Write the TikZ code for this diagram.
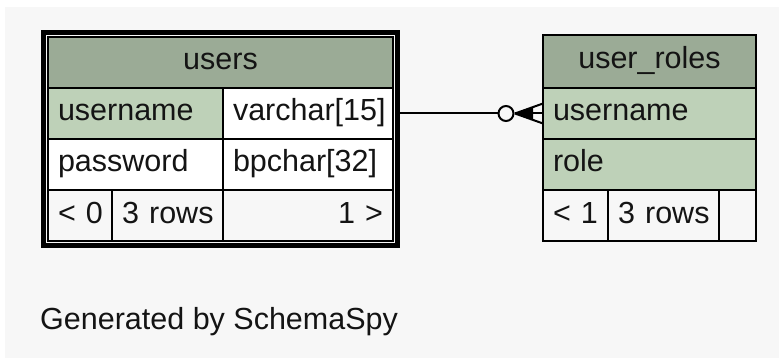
\documentclass[tikz,border=0pt]{standalone}
\usepackage{fontspec}
\setmainfont{Liberation Sans}
\usetikzlibrary{positioning,fit,calc}

\definecolor{hdrgreen}{HTML}{9BAB96}
\definecolor{keygreen}{HTML}{BED1B8}
\definecolor{paper}{HTML}{F7F7F7}
\definecolor{ink}{HTML}{141414}

\begin{document}
\begin{tikzpicture}[
        x=1pt, y=-1pt,
        cell/.style={
                rectangle,
                draw=black,
                line width=1.8pt,
                fill=white,
                anchor=north west,
                inner xsep=10pt,
                inner ysep=0pt,
                outer sep=0pt,
                minimum height=51pt,
                text=ink,
                font=\fontsize{30.5}{35}\selectfont,
                text height=21pt,
                text depth=6pt,
                align=left
            },
        header/.style={
                cell,
                fill=hdrgreen,
                align=center
            },
        keycol/.style={cell, fill=keygreen},
        footer/.style={cell, fill=paper},
        tableframe/.style={
                rectangle,
                draw=black,
                line width=5pt,
                inner sep=4.5pt
            },
        zeroring/.style={
                circle,
                draw=black,
                line width=2pt,
                fill=paper,
                inner sep=0pt,
                minimum size=15pt
            },
        relation/.style={draw=black, line width=2pt},
        credit/.style={font=\fontsize{30.5}{35}\selectfont, text=ink, inner sep=0pt}
    ]
    \useasboundingbox (0,0) rectangle (779,358);
    \fill[white] (0,0) rectangle (779,358);
    \fill[paper] (5,7) rectangle (779,358);

    % users
    \node[header, text width=325pt] (usersHead) at (48,37) {users};
    \node[keycol, text width=155pt] (usersName) at (48,88) {username};
    \node[cell, text width=150pt] (usersNameType) at (223,88) {varchar[15]};
    \node[cell, text width=155pt] (usersPass) at (48,139) {password};
    \node[cell, text width=150pt] (usersPassType) at (223,139) {bpchar[32]};
    \node[footer, text width=44pt] (usersParents) at (48,190) {\mbox{< 0}};
    \node[footer, text width=91pt] (usersRows) at (112,190) {\mbox{3 rows}};
    \node[footer, text width=150pt, align=right] (usersChildren) at (223,190) {1 >};
    \node[tableframe, fit=(usersHead)(usersChildren)] (users) {};

    % user_roles
    \node[header, text width=193pt, minimum height=53pt] (rolesHead) at (543,35) {user\_roles};
    \node[keycol, text width=193pt] (rolesName) at (543,88) {username};
    \node[keycol, text width=193pt] (rolesRole) at (543,139) {role};
    \node[footer, text width=45pt] (rolesParents) at (543,190) {\mbox{< 1}};
    \node[footer, text width=91pt] (rolesRows) at (608,190) {\mbox{3 rows}};
    \node[footer, text width=17pt] (rolesChildren) at (719,190) {};

    % relationship
    \node[zeroring] (zeroMany) at (506,113.5) {};
    \coordinate (crowTip) at (515,113.5);
    \path[relation] (users.east |- usersNameType.east) -- (zeroMany.west);
    \path[relation] (zeroMany.east) -- (crowTip);
    \fill[black] (crowTip) -- ($(crowTip)+(18,-6)$) -- ($(crowTip)+(18,6)$) -- cycle;
    \path[relation] (crowTip) -- ($(rolesName.west)+(0,-10)$);
    \path[relation] (crowTip) -- (rolesName.west);
    \path[relation] (crowTip) -- ($(rolesName.west)+(0,10)$);

    \node[credit, anchor=base west] (generated) at (40,329) {Generated by SchemaSpy};
\end{tikzpicture}
\end{document}
